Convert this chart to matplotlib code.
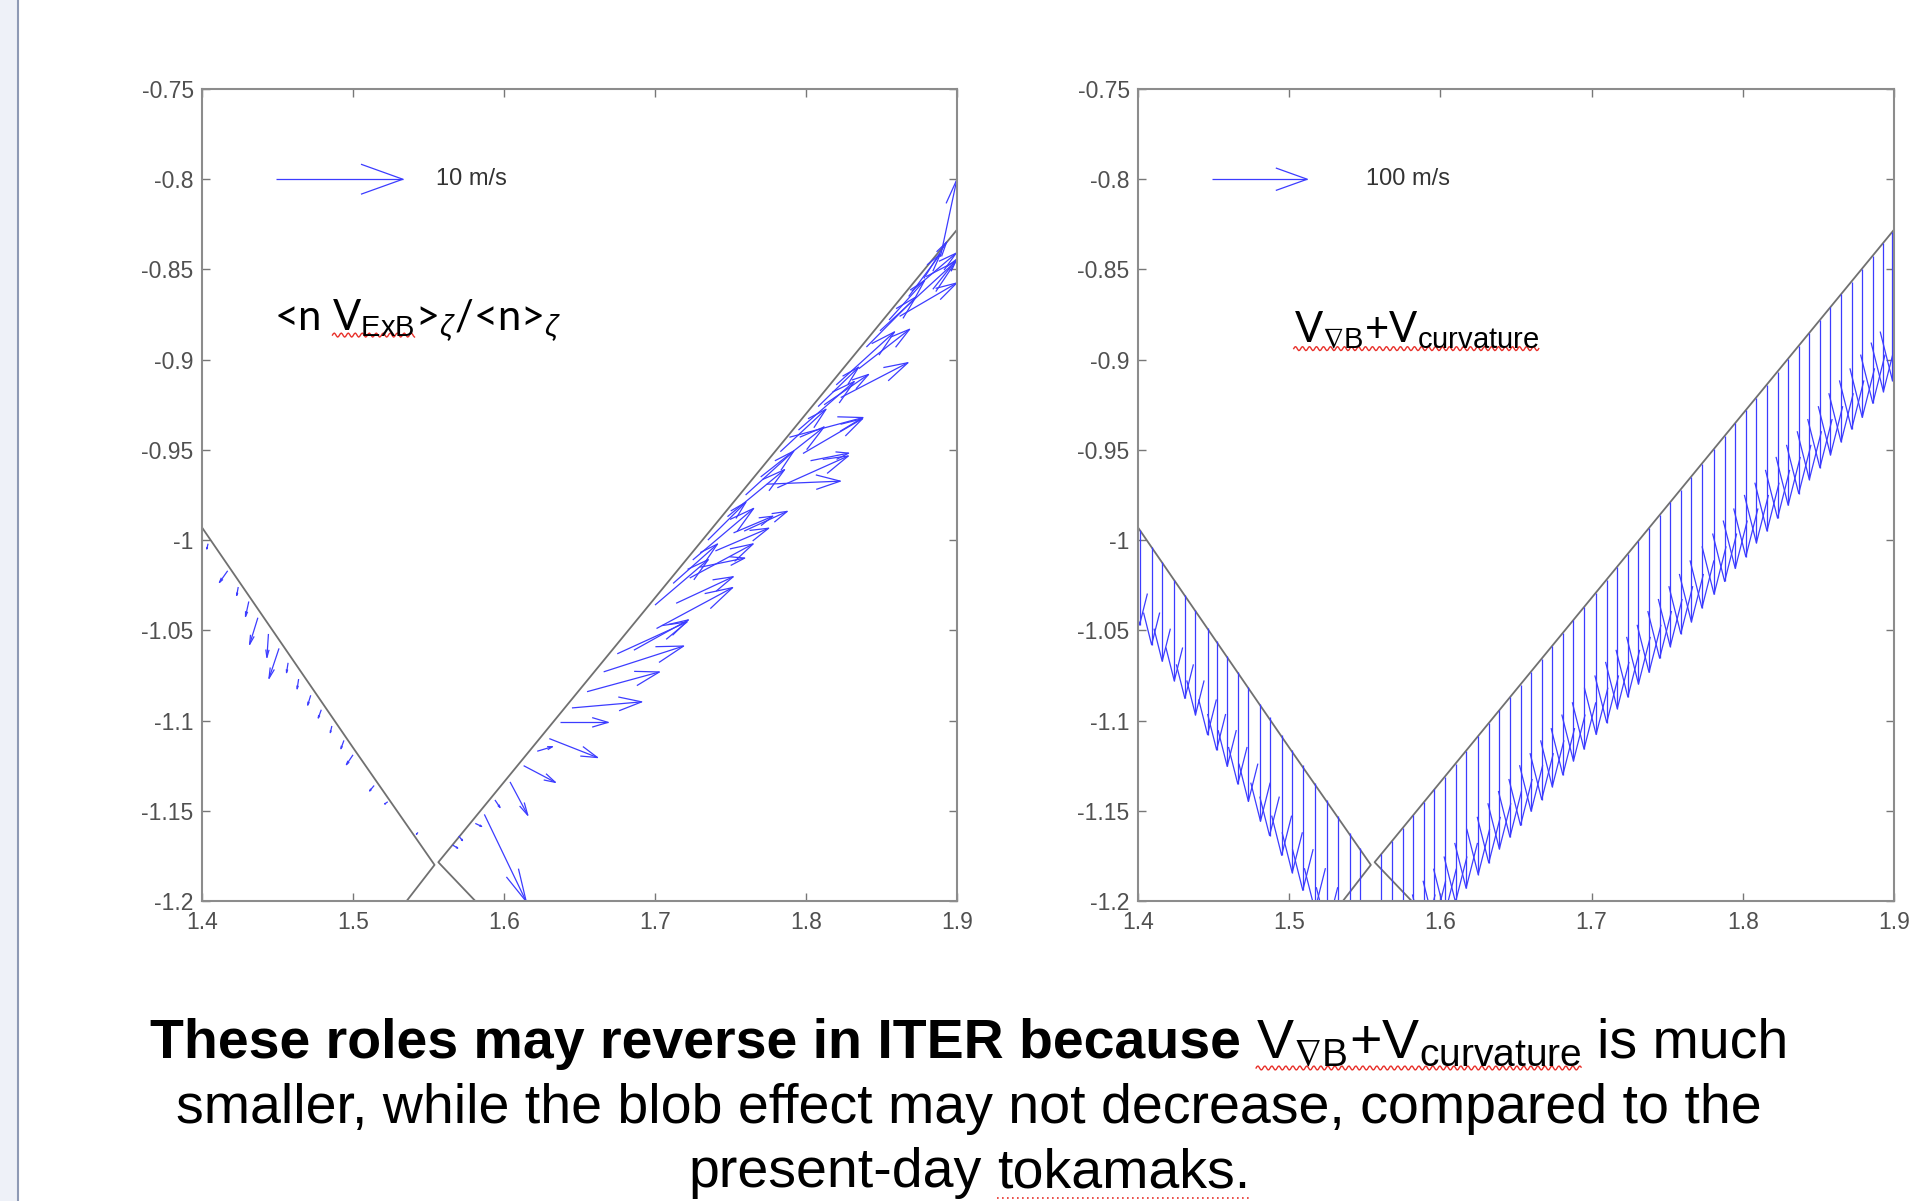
import numpy as np
import matplotlib
matplotlib.use('Agg')
import matplotlib.pyplot as plt
from matplotlib.collections import LineCollection
from matplotlib.lines import Line2D
from matplotlib.patches import Rectangle

plt.rcParams['mathtext.fontset'] = 'custom'
plt.rcParams['mathtext.rm'] = 'Liberation Sans'
plt.rcParams['mathtext.it'] = 'Liberation Sans:italic'
plt.rcParams['mathtext.bf'] = 'Liberation Sans:bold'
plt.rcParams['mathtext.fallback'] = 'stixsans'
plt.rcParams['axes.unicode_minus'] = False

# separatrix legs near the X-point (R, Z in m)
sep_in_R = [1.400, 1.450, 1.500, 1.554, 1.5355]
sep_in_Z = [-0.993, -1.054, -1.115, -1.180, -1.200]
sep_out_R = [1.581, 1.5565, 1.650, 1.750, 1.850, 1.900]
sep_out_Z = [-1.200, -1.1785, -1.083, -0.981, -0.879, -0.828]

# <n V_ExB>/<n>  (m/s), inner leg then outer leg
exb_R = [1.404, 1.417, 1.424, 1.431, 1.437, 1.444, 1.451, 1.457, 1.464, 1.472,
         1.479, 1.486, 1.494, 1.500, 1.514, 1.523, 1.543,
         1.566, 1.570, 1.581, 1.587, 1.594, 1.604, 1.613, 1.622, 1.630, 1.637,
         1.645, 1.655, 1.666, 1.675, 1.686, 1.701, 1.714, 1.723, 1.730, 1.740,
         1.752, 1.759, 1.774, 1.781, 1.789, 1.798, 1.803, 1.812, 1.823, 1.835,
         1.849, 1.862, 1.870, 1.884, 1.889,
         1.700, 1.712, 1.725, 1.735, 1.748, 1.760, 1.770, 1.783, 1.795, 1.808,
         1.820, 1.840, 1.855, 1.868, 1.878]
exb_Z = [-1.002, -1.017, -1.026, -1.034, -1.043, -1.052, -1.060, -1.068, -1.077, -1.086,
         -1.094, -1.103, -1.111, -1.119, -1.136, -1.145, -1.162,
         -1.169, -1.164, -1.157, -1.152, -1.144, -1.134, -1.125, -1.117, -1.110, -1.101,
         -1.093, -1.084, -1.073, -1.063, -1.061, -1.049, -1.035, -1.021, -1.015, -1.006,
         -0.996, -0.995, -0.969, -0.971, -0.943, -0.952, -0.956, -0.925, -0.921, -0.905,
         -0.884, -0.876, -0.862, -0.861, -0.843,
         -1.036, -1.024, -1.011, -1.000, -0.987, -0.975, -0.965, -0.951, -0.939, -0.926,
         -0.914, -0.893, -0.878, -0.865, -0.855]
exb_vR = [-0.10, -0.65, -0.12, -0.26, -0.65, -0.12, -0.79, -0.12, -0.12, -0.24,
          -0.24, -0.12, -0.24, -0.52, -0.36, -0.24, -0.12,
          0.4, 0.3, 0.5, 3.3, 0.4, 1.4, 2.5, 1.2, 3.8, 3.8,
          5.5, 5.7, 6.3, 5.5, 4.3, 6.0, 4.5, 5.0, 3.5, 4.2,
          3.1, 3.4, 5.8, 5.6, 5.8, 4.7, 3.0, 3.5, 5.3, 4.0,
          6.0, 4.5, 3.5, 1.9, 1.3,
          4.2, 3.5, 4.8, 3.0, 4.5, 3.8, 5.0, 3.6, 4.4, 3.2,
          4.6, 3.9, 2.8, 2.5, 1.8]
exb_vZ = [-0.35, -0.77, -0.55, -0.99, -1.76, -1.55, -1.98, -0.65, -0.65, -0.65,
          -0.55, -0.44, -0.55, -0.65, -0.36, -0.15, -0.12,
          -0.2, -0.3, -0.2, -5.75, -0.5, -2.2, -1.1, 0.3, -1.25, 0.0,
          0.4, 1.3, 1.7, 2.1, 2.0, 2.7, 1.75, 2.25, 0.6, 1.5,
          1.1, 1.3, 0.2, 2.1, 1.3, 2.3, 0.5, 2.0, 2.3, 2.6,
          4.6, 2.2, 2.5, 2.0, 5.1,
          3.0, 2.6, 3.4, 2.5, 3.1, 2.9, 3.3, 2.8, 3.2, 2.6,
          3.5, 3.3, 2.6, 2.8, 2.4]

# V_gradB + V_curvature (m/s), vertical drift, inner leg then outer leg
drift_R = [1.401, 1.409, 1.416, 1.424, 1.431, 1.438, 1.446, 1.452, 1.459, 1.466,
           1.473, 1.481, 1.487, 1.495, 1.502, 1.509, 1.517, 1.525, 1.532, 1.540, 1.547,
           1.561, 1.568, 1.575, 1.582, 1.589, 1.596, 1.603, 1.610, 1.617, 1.625,
           1.632, 1.639, 1.646, 1.653, 1.660, 1.667, 1.674, 1.681, 1.688, 1.695,
           1.703, 1.710, 1.717, 1.724, 1.731, 1.738, 1.745, 1.752, 1.759, 1.766,
           1.773, 1.781, 1.788, 1.795, 1.802, 1.809, 1.816, 1.823, 1.830, 1.837,
           1.844, 1.851, 1.858, 1.865, 1.872, 1.879, 1.886, 1.893, 1.899]
drift_Z = [-0.9942, -1.0039, -1.0124, -1.0220, -1.0305, -1.0390, -1.0487, -1.0559, -1.0644, -1.0729,
           -1.0813, -1.0910, -1.0983, -1.1080, -1.1164, -1.1249, -1.1346, -1.1443, -1.1527, -1.1624, -1.1709,
           -1.1739, -1.1668, -1.1596, -1.1525, -1.1454, -1.1382, -1.1311, -1.1239, -1.1168, -1.1086,
           -1.1015, -1.0944, -1.0872, -1.0801, -1.0729, -1.0658, -1.0587, -1.0515, -1.0444, -1.0372,
           -1.0291, -1.0219, -1.0148, -1.0077, -1.0005, -0.9934, -0.9862, -0.9791, -0.9720, -0.9648,
           -0.9577, -0.9495, -0.9424, -0.9352, -0.9281, -0.9210, -0.9138, -0.9067, -0.8995, -0.8924,
           -0.8853, -0.8781, -0.8710, -0.8638, -0.8567, -0.8496, -0.8424, -0.8353, -0.8292]
drift_vZ = [-84, -86, -87, -89, -91, -92, -94, -96, -97, -99,
            -101, -103, -104, -106, -108, -110, -112, -114, -116, -118, -120,
            -118, -119, -118, -120, -121, -120, -121, -122, -121, -122,
            -123, -122, -123, -124, -123, -124, -124, -125, -124, -125,
            -125, -126, -125, -126, -126, -127, -126, -127, -127, -128,
            -127, -128, -128, -128, -129, -128, -129, -129, -129, -130,
            -129, -130, -130, -130, -130, -131, -130, -131, -131]

y_ticks = [-1.2, -1.15, -1.1, -1.05, -1.0, -0.95, -0.9, -0.85, -0.8, -0.75]
y_labels = ['-1.2', '-1.15', '-1.1', '-1.05', '-1', '-0.95', '-0.9', '-0.85', '-0.8', '-0.75']
x_ticks = [1.4, 1.5, 1.6, 1.7, 1.8, 1.9]
x_labels = ['1.4', '1.5', '1.6', '1.7', '1.8', '1.9']

W, H = 1917, 1201
BLUE = '#3c3cff'

fig = plt.figure(figsize=(W / 100, H / 100), dpi=100)
fig.patch.set_facecolor('white')

# slide side bar
fig.add_artist(Rectangle((0, 0), 18 / W, 1, transform=fig.transFigure,
                         facecolor='#eef1f8', edgecolor='none'))
fig.add_artist(Line2D([18 / W, 18 / W], [0, 1], transform=fig.transFigure,
                      color='#8e9ab5', lw=1.5))


def matlab_quiver(ax, x, y, u, v, s, color=BLUE, lw=0.9, b=0.30):
    # arrows drawn like MATLAB quiver: shaft + open head
    x = np.asarray(x, float); y = np.asarray(y, float)
    u = np.asarray(u, float) * s; v = np.asarray(v, float) * s
    a = 0.33
    tx, ty = x + u, y + v
    segs = []
    for i in range(len(x)):
        segs.append([(x[i], y[i]), (tx[i], ty[i])])
        segs.append([(tx[i] - a * (u[i] + b * v[i]), ty[i] - a * (v[i] - b * u[i])),
                     (tx[i], ty[i]),
                     (tx[i] - a * (u[i] - b * v[i]), ty[i] - a * (v[i] + b * u[i]))])
    ax.add_collection(LineCollection(segs, colors=color, linewidths=lw))


def setup_axes(rect):
    ax = fig.add_axes(rect)
    ax.set_xlim(1.4, 1.9)
    ax.set_ylim(-1.2, -0.75)
    ax.set_xticks(x_ticks)
    ax.set_xticklabels(x_labels)
    ax.set_yticks(y_ticks)
    ax.set_yticklabels(y_labels)
    ax.tick_params(direction='in', length=6, width=1, color='#777777',
                   top=True, right=True, labelsize=16.5, labelcolor='#505050')
    ax.tick_params(axis='x', pad=7)
    ax.tick_params(axis='y', pad=6)
    for sp in ax.spines.values():
        sp.set_color('#8c8c8c')
        sp.set_linewidth(1.5)
    for lab in ax.get_xticklabels() + ax.get_yticklabels():
        lab.set_fontfamily('Liberation Sans')
    ax.plot(sep_in_R, sep_in_Z, color='#707070', lw=1.3)
    ax.plot(sep_out_R, sep_out_Z, color='#707070', lw=1.3)
    return ax


ax1 = setup_axes([202 / W, 1 - 901 / H, 755 / W, 812 / H])
ax2 = setup_axes([1138 / W, 1 - 901 / H, 756 / W, 812 / H])

# left: ExB flux velocity, 10 m/s = 0.084 m
s1 = 0.0084
matlab_quiver(ax1, exb_R, exb_Z, exb_vR, exb_vZ, s1, b=0.25)
matlab_quiver(ax1, [1.449], [-0.80], [10], [0], s1)
ax1.text(1.555, -0.80, '10 m/s', fontsize=17, va='center', ha='left',
         family='Liberation Sans', color='#333333')

# right: grad-B + curvature drift, 100 m/s = 0.0629 m
s2 = 0.000629
matlab_quiver(ax2, drift_R, drift_Z, [0] * len(drift_R), drift_vZ, s2, lw=0.9)
matlab_quiver(ax2, [1.449], [-0.80], [100], [0], s2)
ax2.text(1.551, -0.80, '100 m/s', fontsize=17, va='center', ha='left',
         family='Liberation Sans', color='#333333')

renderer = fig.canvas.get_renderer()


def space_width(kw):
    a = fig.text(0, 0, 'x x', **kw)
    b = fig.text(0, 0, 'xx', **kw)
    w = a.get_window_extent(renderer).width - b.get_window_extent(renderer).width
    a.remove(); b.remove()
    return w


def squiggle(x0, x1, y, style):
    if style == 'wave':
        xs = np.arange(x0, x1, 1.0)
        ys = y + 2.0 * np.sin((xs - x0) * 2 * np.pi / 7.0)
        fig.add_artist(Line2D(xs / W, ys / H, transform=fig.transFigure,
                              color='#e8302a', lw=1.0))
    else:
        fig.add_artist(Line2D([x0 / W, x1 / W], [y / H, y / H], transform=fig.transFigure,
                              color='#e8302a', lw=1.2, ls=(0, (1, 2))))


def put_pieces(pieces, x0, y0, ha='left', drop=5):
    # pieces: (string, text kwargs, space after, squiggle style)
    arts, widths = [], []
    for s, kw, gap, sq in pieces:
        t = fig.text(0, 0, s, va='baseline', ha='left', **kw)
        w = t.get_window_extent(renderer).width
        arts.append(t)
        widths.append(w + (space_width(kw) if gap else 0))
    total = sum(widths)
    x = x0 - total / 2 if ha == 'center' else x0
    for (s, kw, gap, sq), t, w in zip(pieces, arts, widths):
        t.set_position((x / W, y0 / H))
        if sq:
            ew = t.get_window_extent(renderer).width
            squiggle(x, x + ew, y0 - drop, sq)
        x += w


lab_kw = dict(fontsize=30, family=['Lato', 'DejaVu Sans'], color='black')
x0, y0 = ax1.transData.transform((1.448, -0.8836))
put_pieces([('<n', lab_kw, True, None),
            (r'V$_{\rm ExB}$', lab_kw, False, 'wave'),
            (r'>$_{\zeta}$/<n>$_{\zeta}$', lab_kw, False, None)], x0, y0, drop=5)
x0, y0 = ax2.transData.transform((1.503, -0.8900))
put_pieces([(r'V$_{\nabla \rm B}$+V$_{\rm curvature}$', lab_kw, False, 'wave')],
           x0, y0, drop=7)

cap_kw = dict(fontsize=40, family='Liberation Sans', color='black')
cap_bold = dict(cap_kw, fontweight='bold')
put_pieces([('These roles may reverse in ITER because', cap_bold, True, None),
            (r'V$_{\nabla \rm B}$+V$_{\rm curvature}$', cap_kw, True, 'wave'),
            ('is much', cap_kw, False, None)], 969, H - 1058, ha='center', drop=10)
put_pieces([('smaller, while the blob effect may not decrease, compared to the', cap_kw, False, None)],
           969, H - 1123, ha='center')
put_pieces([('present-day', cap_kw, True, None),
            ('tokamaks.', cap_kw, False, 'dots')], 969, H - 1187, ha='center', drop=11)

fig.savefig('out.png', dpi=100)
